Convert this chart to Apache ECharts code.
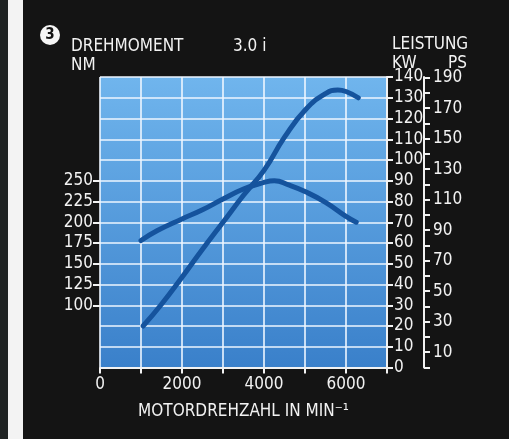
<!DOCTYPE html>
<html>
<head>
<meta charset="utf-8">
<script src="https://cdn.jsdelivr.net/npm/echarts@6/dist/echarts.min.js"></script>
<style>
html,body{margin:0;padding:0;background:#141414;}
#c{width:509px;height:439px;}
</style>
</head>
<body>
<div id="c"></div>
<script>
// Torque curve (rpm, Nm)
const torqueRpm = [1000, 1400, 2000, 2500, 3000, 3500, 4000, 4250, 4600, 5000, 5500, 6000, 6250];
const torqueNm  = [178, 190, 204, 215, 228, 240, 248, 250, 245, 237, 224, 207, 200];
// Power curve (rpm, kW)
const powerRpm = [1050, 1500, 2000, 2500, 3000, 3500, 4000, 4500, 5000, 5500, 5800, 6000, 6300];
const powerKw  = [20, 30.5, 43.5, 57, 70, 83, 95, 111, 124, 132, 133.7, 133, 130];
// Tick labels
const rpmLabels = [0, 2000, 4000, 6000];
const nmLabels = [100, 125, 150, 175, 200, 225, 250];
const psLabels = [10, 30, 50, 70, 90, 110, 130, 150, 170, 190];
const psTicks = [0,10,20,30,40,50,60,70,80,90,100,110,120,130,140,150,160,170,180,190];

const FONT = "'DejaVu Sans Condensed', 'Liberation Sans Narrow', 'DejaVu Sans', sans-serif";
const WHITE = '#f2f2f2';
const LINE = '#15539d';
const plain = v => String(v);

const chart = echarts.init(document.getElementById('c'), null, {renderer: 'canvas'});
const pair = (xs, ys) => xs.map((x, i) => [x, ys[i]]);
const tstyle = {color: WHITE, fontSize: 17, fontWeight: 'normal', fontFamily: FONT};

chart.setOption({
  backgroundColor: '#141414',
  animation: false,
  textStyle: {fontFamily: FONT},
  title: [
    {text: 'DREHMOMENT', left: 66, top: 33, textStyle: tstyle},
    {text: 'NM', left: 66, top: 52, textStyle: tstyle},
    {text: '3.0 i', left: 228, top: 33, textStyle: tstyle},
    {text: 'LEISTUNG', left: 387, top: 31, textStyle: tstyle},
    {text: 'KW', left: 387, top: 50, textStyle: tstyle},
    {text: 'PS', left: 443, top: 50, textStyle: tstyle}
  ],
  graphic: [
    {type: 'rect', shape: {x: 0, y: 0, width: 8, height: 439}, style: {fill: '#1f2323'}},
    {type: 'rect', shape: {x: 8, y: 0, width: 15, height: 439}, style: {fill: '#f3f3f3'}},
    {type: 'circle', shape: {cx: 50, cy: 35, r: 10}, style: {fill: '#f5f5f5'}},
    {type: 'text', x: 50, y: 35, style: {text: '3', fill: '#111', font: "bold 15px " + FONT, textAlign: 'center', textVerticalAlign: 'middle'}}
  ],
  grid: {
    left: 100, right: 122, top: 77, bottom: 71.5,
    show: true, borderWidth: 0,
    backgroundColor: new echarts.graphic.LinearGradient(0, 0, 0, 1, [
      {offset: 0, color: '#70b5ed'},
      {offset: 1, color: '#3a80ca'}
    ])
  },
  xAxis: {
    type: 'value', min: 0, max: 7000, interval: 1000,
    name: 'MOTORDREHZAHL IN MIN\u207B\u00B9', nameLocation: 'middle', nameGap: 36,
    nameTextStyle: {color: WHITE, fontFamily: FONT, fontSize: 17},
    axisLine: {show: true, lineStyle: {color: WHITE, width: 2}},
    axisTick: {show: true, length: 6, lineStyle: {color: WHITE, width: 2}},
    axisLabel: {color: WHITE, fontFamily: FONT, fontSize: 17, margin: 9, customValues: rpmLabels, formatter: plain},
    splitLine: {show: true, lineStyle: {color: '#eef6ff', width: 1.6}}
  },
  yAxis: [
    {
      type: 'value', min: 25, max: 375, position: 'left',
      axisLine: {show: false},
      axisTick: {show: true, length: 7, lineStyle: {color: WHITE, width: 2}, customValues: nmLabels},
      axisLabel: {color: WHITE, fontFamily: FONT, fontSize: 17, margin: 7, customValues: nmLabels, formatter: plain},
      splitLine: {show: false}
    },
    {
      type: 'value', min: 0, max: 140, interval: 10, position: 'right',
      axisLine: {show: true, onZero: false, lineStyle: {color: WHITE, width: 2}},
      axisTick: {show: true, length: 6, lineStyle: {color: WHITE, width: 2}},
      axisLabel: {color: WHITE, fontFamily: FONT, fontSize: 17, margin: 7, formatter: plain},
      splitLine: {show: true, lineStyle: {color: '#eef6ff', width: 1.6}}
    },
    {
      type: 'value', min: 0, max: 190.4, position: 'right', offset: 37,
      axisLine: {show: true, onZero: false, lineStyle: {color: WHITE, width: 2}},
      axisTick: {show: true, length: 6, lineStyle: {color: WHITE, width: 2}, customValues: psTicks},
      axisLabel: {color: WHITE, fontFamily: FONT, fontSize: 17, margin: 9, customValues: psLabels, formatter: plain},
      splitLine: {show: false}
    }
  ],
  series: [
    {
      type: 'line', yAxisIndex: 0, data: pair(torqueRpm, torqueNm), smooth: 0.5,
      showSymbol: false, lineStyle: {color: LINE, width: 5, cap: 'round'}
    },
    {
      type: 'line', yAxisIndex: 1, data: pair(powerRpm, powerKw), smooth: 0.5,
      showSymbol: false, lineStyle: {color: LINE, width: 5, cap: 'round'}
    }
  ]
});
</script>
</body>
</html>
